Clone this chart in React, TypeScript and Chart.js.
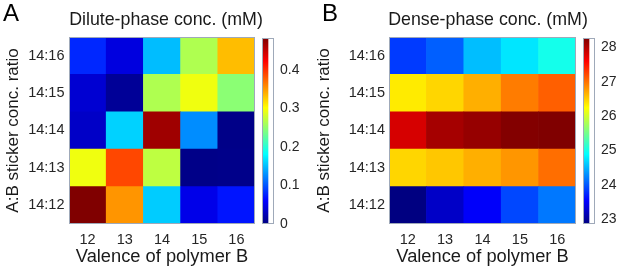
import React, { useEffect, useRef } from 'react';
import { Chart, registerables } from 'chart.js';

Chart.register(...registerables);

// ---------- data ----------
const valenceLabels = ['12', '13', '14', '15', '16'];
const ratioLabels = ['14:12', '14:13', '14:14', '14:15', '14:16']; // bottom -> top

// dilute-phase conc. (mM), one array per ratio row (bottom -> top), columns = valence 12..16
const dilute1412 = [0.483, 0.352, 0.157, 0.05, 0.07];
const dilute1413 = [0.295, 0.389, 0.271, 0.004, 0.005];
const dilute1414 = [0.034, 0.16, 0.468, 0.127, 0.004];
const dilute1415 = [0.039, 0.011, 0.264, 0.295, 0.247];
const dilute1416 = [0.079, 0.045, 0.15, 0.264, 0.333];

// dense-phase conc. (mM)
const dense1412 = [22.88, 23.25, 23.52, 23.92, 24.18];
const dense1413 = [26.46, 26.54, 26.67, 26.8, 27.01];
const dense1414 = [27.81, 28.07, 28.15, 28.25, 28.27];
const dense1415 = [26.35, 26.46, 26.67, 26.94, 27.09];
const dense1416 = [23.85, 24.05, 24.55, 24.76, 25.0];

const diluteRange = [0, 0.483];
const denseRange = [22.87, 28.27];
const diluteTicks = [0, 0.1, 0.2, 0.3, 0.4];
const denseTicks = [23, 24, 25, 26, 27, 28];

const diluteRows = [dilute1412, dilute1413, dilute1414, dilute1415, dilute1416];
const denseRows = [dense1412, dense1413, dense1414, dense1415, dense1416];

// ---------- helpers ----------
const FONT = "'Liberation Sans', Arial, Helvetica, sans-serif";
const TICK_COLOR = '#262626';
const TEXT_COLOR = '#1a1a1a';
const FRAME_COLOR = '#9fa9b9';

Chart.defaults.font.family = FONT;

function clamp01(x: number) {
  return Math.max(0, Math.min(1, x));
}
function jet(t: number) {
  const tt = clamp01(t);
  const r = clamp01(1.5 - Math.abs(4 * tt - 3));
  const g = clamp01(1.5 - Math.abs(4 * tt - 2));
  const b = clamp01(1.5 - Math.abs(4 * tt - 1));
  return `rgb(${Math.round(r * 255)},${Math.round(g * 255)},${Math.round(b * 255)})`;
}

const framePlugin = {
  id: 'frame',
  afterDatasetsDraw(chart: any) {
    const { ctx, chartArea: a } = chart;
    if (!a) return;
    ctx.save();
    ctx.strokeStyle = FRAME_COLOR;
    ctx.lineWidth = 1;
    ctx.strokeRect(Math.round(a.left) + 0.5, Math.round(a.top) + 0.5, Math.round(a.width) - 1, Math.round(a.height) - 1);
    ctx.restore();
  },
};

interface HeatOpts {
  rows: number[][];
  range: number[];
  title: string;
  yWidth: number;
  yTitlePad: number;
  yTickPad: number;
  rightSpace: number;
}

function makeHeatmap(canvas: HTMLCanvasElement, o: HeatOpts) {
  const span = o.range[1] - o.range[0];
  return new Chart(canvas, {
    type: 'bar',
    data: {
      labels: valenceLabels,
      datasets: o.rows.map((row, j) => ({
        label: ratioLabels[j],
        data: row.map(() => [j, j + 1]),
        backgroundColor: row.map((v) => jet((v - o.range[0]) / span)),
        borderWidth: 0,
        barPercentage: 1,
        categoryPercentage: 1,
        grouped: false,
        yAxisID: 'y',
      })),
    } as any,
    options: {
      responsive: false,
      animation: false,
      events: [],
      layout: { padding: 0 },
      plugins: {
        legend: { display: false },
        tooltip: { enabled: false },
        title: {
          display: true,
          text: o.title,
          color: TEXT_COLOR,
          font: { size: 17.8, weight: 'normal', family: FONT },
          padding: { top: 9, bottom: 6.6 },
        },
      },
      scales: {
        x: {
          type: 'category',
          offset: true,
          grid: { display: false, drawTicks: false },
          border: { display: false },
          ticks: { color: TICK_COLOR, font: { size: 14.5, family: FONT }, padding: 7, maxRotation: 0 },
          title: {
            display: true,
            text: 'Valence of polymer B',
            color: TEXT_COLOR,
            font: { size: 18.3, family: FONT },
            padding: { top: 0, bottom: 0 },
          },
          afterFit: (s: any) => {
            s.height = 44;
          },
        },
        y: {
          type: 'linear',
          position: 'left',
          min: 0,
          max: ratioLabels.length,
          afterBuildTicks: (s: any) => {
            s.ticks = ratioLabels.map((_, i) => ({ value: i + 0.5 }));
          },
          grid: { display: false, drawTicks: false },
          border: { display: false },
          ticks: {
            autoSkip: false,
            color: TICK_COLOR,
            font: { size: 14.5, family: FONT },
            padding: o.yTickPad,
            callback: (v: any) => ratioLabels[Math.floor(Number(v))],
          },
          title: {
            display: true,
            text: 'A:B sticker conc. ratio',
            color: TEXT_COLOR,
            font: { size: 17, family: FONT },
            padding: { top: o.yTitlePad, bottom: 0 },
          },
          afterFit: (s: any) => {
            s.width = o.yWidth;
          },
        },
        yRight: {
          type: 'linear',
          position: 'right',
          display: true,
          min: 0,
          max: 1,
          grid: { display: false, drawTicks: false },
          border: { display: false },
          ticks: { display: false },
          afterFit: (s: any) => {
            s.width = o.rightSpace;
          },
        },
      },
    } as any,
    plugins: [framePlugin],
  });
}

function makeColorbar(canvas: HTMLCanvasElement, range: number[], ticks: number[], axisWidth: number) {
  return new Chart(canvas, {
    type: 'bar',
    data: {
      labels: [''],
      datasets: [
        {
          data: [[range[0], range[1]]],
          borderWidth: 0,
          barPercentage: 1,
          categoryPercentage: 1,
          backgroundColor: (ctx: any) => {
            const chart = ctx.chart;
            const a = chart.chartArea;
            if (!a) return 'transparent';
            const g = chart.ctx.createLinearGradient(0, a.bottom, 0, a.top);
            for (let i = 0; i <= 64; i++) g.addColorStop(i / 64, jet(i / 64));
            return g;
          },
        },
      ],
    } as any,
    options: {
      responsive: false,
      animation: false,
      events: [],
      layout: { padding: { left: 0, right: 0, top: 38, bottom: 44 } },
      plugins: { legend: { display: false }, tooltip: { enabled: false }, title: { display: false } },
      scales: {
        x: { display: false, offset: false },
        y: {
          type: 'linear',
          position: 'right',
          min: range[0],
          max: range[1],
          afterBuildTicks: (s: any) => {
            s.ticks = ticks.map((v) => ({ value: v }));
          },
          grid: { display: false, drawTicks: false },
          border: { display: false },
          ticks: {
            autoSkip: false,
            color: TICK_COLOR,
            font: { size: 14, family: FONT },
            padding: 6,
            callback: (v: any) => String(v),
          },
          afterFit: (s: any) => {
            s.width = axisWidth;
          },
        },
      },
    } as any,
    plugins: [framePlugin],
  });
}

export default function App() {
  const heatA = useRef<HTMLCanvasElement>(null);
  const heatB = useRef<HTMLCanvasElement>(null);
  const barA = useRef<HTMLCanvasElement>(null);
  const barB = useRef<HTMLCanvasElement>(null);

  useEffect(() => {
    const charts: Chart[] = [];
    if (heatA.current)
      charts.push(
        makeHeatmap(heatA.current, {
          rows: diluteRows,
          range: diluteRange,
          title: 'Dilute-phase conc. (mM)',
          yWidth: 69,
          yTitlePad: 3.3,
          yTickPad: 4.5,
          rightSpace: 77,
        })
      );
    if (heatB.current)
      charts.push(
        makeHeatmap(heatB.current, {
          rows: denseRows,
          range: denseRange,
          title: 'Dense-phase conc. (mM)',
          yWidth: 79,
          yTitlePad: 3.8,
          yTickPad: 4,
          rightSpace: 90,
        })
      );
    if (barA.current) charts.push(makeColorbar(barA.current, diluteRange, diluteTicks, 36));
    if (barB.current) charts.push(makeColorbar(barB.current, denseRange, denseTicks, 22));
    return () => charts.forEach((c) => c.destroy());
  }, []);

  const abs = (left: number, width: number): React.CSSProperties => ({
    position: 'absolute',
    left,
    top: 0,
    width,
    height: 268,
    display: 'block',
  });
  const letter = (left: number): React.CSSProperties => ({
    position: 'absolute',
    left,
    top: 1,
    fontFamily: FONT,
    fontSize: 24,
    lineHeight: 1,
    color: '#000',
  });

  return (
    <div style={{ position: 'absolute', left: 0, top: 0, width: 617, height: 268, overflow: 'hidden', background: '#fff' }}>
      <canvas ref={heatA} width={332} height={268} style={abs(0, 332)} />
      <canvas ref={heatB} width={356} height={268} style={abs(310, 356)} />
      <canvas ref={barA} width={48} height={268} style={abs(262, 48)} />
      <canvas ref={barB} width={34} height={268} style={abs(583, 34)} />
      <div style={letter(3)}>A</div>
      <div style={letter(322)}>B</div>
    </div>
  );
}
